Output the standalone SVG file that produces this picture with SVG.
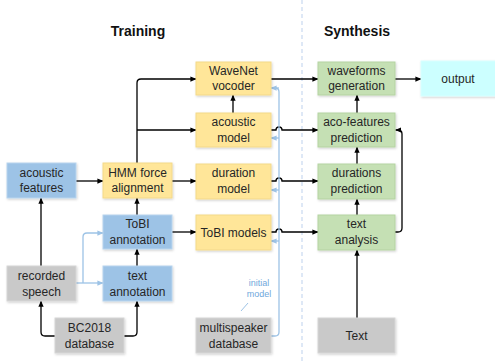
<svg xmlns="http://www.w3.org/2000/svg" width="495" height="363" viewBox="0 0 495 363">
<defs>
<marker id="ah" viewBox="0 0 8 8" refX="7.5" refY="4" markerWidth="6" markerHeight="6" orient="auto" markerUnits="userSpaceOnUse"><path d="M0,0.5 L8,4 L0,7.5 Z" fill="#000"/></marker>
<marker id="ahb" viewBox="0 0 8 8" refX="7.5" refY="4" markerWidth="6" markerHeight="6" orient="auto" markerUnits="userSpaceOnUse"><path d="M0,0.5 L8,4 L0,7.5 Z" fill="#9dc3e6"/></marker>
<filter id="sh" x="-10%" y="-10%" width="130%" height="130%"><feDropShadow dx="0.8" dy="1.2" stdDeviation="0.8" flood-color="#000" flood-opacity="0.18"/></filter>
</defs>
<style>
text{font-family:"Liberation Sans",Arial,sans-serif;font-size:12px;fill:#262626;text-anchor:middle}
.t{font-size:14px;font-weight:bold;fill:#111}
.blue{fill:#9dc3e6;stroke:#b8d4ee;stroke-width:1}
.yel{fill:#ffe699;stroke:#f3d98a;stroke-width:1}
.grn{fill:#c5e0b4;stroke:#b5d3a2;stroke-width:1}
.gry{fill:#c9c9c9;stroke:#d6d6d6;stroke-width:1}
.cyn{fill:#ccffff;stroke:#d8ffff;stroke-width:1}
rect{filter:url(#sh)}
.c{fill:none;stroke:#000;stroke-width:1.3;marker-end:url(#ah)}
.n{fill:none;stroke:#000;stroke-width:1.3}
.lb{fill:none;stroke:#9dc3e6;stroke-width:1.3}
.lba{fill:none;stroke:#9dc3e6;stroke-width:1.3;marker-end:url(#ahb)}
.lab{font-size:9px;fill:#6fa8dc}
</style>
<rect width="495" height="363" fill="#fff" style="filter:none"/>
<line x1="302" y1="0" x2="302" y2="363" stroke="#c9d9f0" stroke-width="1.2" stroke-dasharray="4,3"/>
<text class="t" x="138" y="36">Training</text>
<text class="t" x="357" y="36">Synthesis</text>

<g id="connectors">
<path class="c" d="M137,163 V83 Q137,79 141,79 H196"/>
<path class="c" d="M137,130 H196"/>
<path class="c" d="M76,181 H103"/>
<path class="c" d="M172,181 H196"/>
<path class="c" d="M41,266 V198"/>
<path class="c" d="M55,336 H45 Q41,336 41,332 V301"/>
<path class="c" d="M124,336 H133 Q137,336 137,332 V301"/>
<path class="c" d="M137,266 V249"/>
<path class="c" d="M137,215 V198"/>
<path class="c" d="M172,232 H196"/>
<path class="c" d="M233,113 V95"/>
<path class="c" d="M271,79 H318"/>
<path class="c" d="M271,130 H276 A3,3 0 0 1 282,130 H318"/>
<path class="c" d="M271,181 H276 A3,3 0 0 1 282,181 H318"/>
<path class="c" d="M271,232 H276 A3,3 0 0 1 282,232 H318"/>
<path class="c" d="M395,79 H421"/>
<path class="c" d="M357,113 V95"/>
<path class="c" d="M357,164 V147"/>
<path class="c" d="M357,215 V199"/>
<path class="c" d="M357,318 V250"/>
<path class="c" d="M395,232 H398 Q402,232 402,228 V134 Q402,130 398,130 H395.5"/>
<path class="lba" d="M76,283 H103"/>
<path class="lba" d="M83,283 V237 Q83,233 87,233 H103"/>
<path class="lb" d="M271,336 H275 Q279,336 279,332 V92 Q279,88 275,88"/>
<path class="lba" d="M279,88 H271"/>
<path class="lba" d="M279,138 H271"/>
<path class="lba" d="M279,190 H271"/>
<path class="lba" d="M279,241 H271"/>
<line x1="241" y1="311" x2="248" y2="303" stroke="#9dc3e6" stroke-width="1"/>
<text class="lab" x="259" y="286">initial</text>
<text class="lab" x="259" y="297">model</text>
</g>

<g id="acoustic-features"><rect class="blue" x="7" y="163" width="69" height="35"/><text x="41.5" y="177">acoustic</text><text x="41.5" y="192">features</text></g>
<g id="recorded-speech"><rect class="gry" x="7" y="266" width="69" height="35"/><text x="41.5" y="280">recorded</text><text x="41.5" y="296">speech</text></g>
<g id="bc2018"><rect class="gry" x="55" y="318" width="69" height="35"/><text x="89.5" y="332">BC2018</text><text x="89.5" y="348">database</text></g>
<g id="hmm"><rect class="yel" x="103" y="163" width="69" height="35"/><text x="137.5" y="177">HMM force</text><text x="137.5" y="192">alignment</text></g>
<g id="tobi-annotation"><rect class="blue" x="103" y="215" width="69" height="34"/><text x="137.5" y="228">ToBI</text><text x="137.5" y="244">annotation</text></g>
<g id="text-annotation"><rect class="blue" x="103" y="266" width="69" height="35"/><text x="137.5" y="280">text</text><text x="137.5" y="296">annotation</text></g>
<g id="wavenet"><rect class="yel" x="196" y="62" width="75" height="33"/><text x="233.5" y="75">WaveNet</text><text x="233.5" y="90">vocoder</text></g>
<g id="acoustic-model"><rect class="yel" x="196" y="113" width="75" height="34"/><text x="233.5" y="126">acoustic</text><text x="233.5" y="142">model</text></g>
<g id="duration-model"><rect class="yel" x="196" y="164" width="75" height="35"/><text x="233.5" y="177">duration</text><text x="233.5" y="193">model</text></g>
<g id="tobi-models"><rect class="yel" x="196" y="215" width="75" height="35"/><text x="233.5" y="236.5">ToBI models</text></g>
<g id="multispeaker"><rect class="gry" x="196" y="318" width="75" height="35"/><text x="233.5" y="332">multispeaker</text><text x="233.5" y="348">database</text></g>
<g id="waveforms"><rect class="grn" x="318" y="62" width="77" height="33"/><text x="356.5" y="75">waveforms</text><text x="356.5" y="90">generation</text></g>
<g id="aco-features"><rect class="grn" x="318" y="113" width="77" height="34"/><text x="356.5" y="126">aco-features</text><text x="356.5" y="142">prediction</text></g>
<g id="durations"><rect class="grn" x="318" y="164" width="77" height="35"/><text x="356.5" y="177">durations</text><text x="356.5" y="193">prediction</text></g>
<g id="text-analysis"><rect class="grn" x="318" y="215" width="77" height="35"/><text x="356.5" y="228">text</text><text x="356.5" y="244">analysis</text></g>
<g id="text-input"><rect class="gry" x="318" y="318" width="77" height="35"/><text x="356.5" y="340">Text</text></g>
<g id="output"><rect class="cyn" x="421" y="61" width="76" height="35"/><text x="458" y="83">output</text></g>
</svg>
